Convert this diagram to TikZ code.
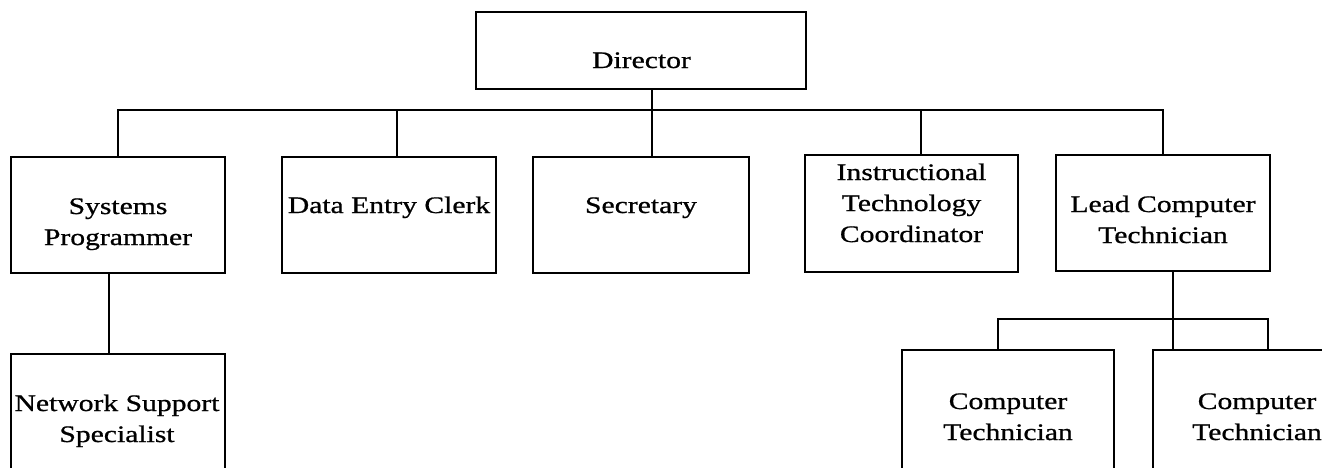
\documentclass[tikz,border=0pt]{standalone}
\usepackage{fontspec}
\setmainfont[FakeStretch=1.25,FakeBold=0.8]{Liberation Serif}
\begin{document}
\begin{tikzpicture}[x=1pt,y=-1pt,
  box/.style={draw,line width=2.2pt,rectangle,inner sep=0pt},
  lbl/.style={align=center,anchor=base,inner sep=0pt,font=\fontsize{23.7}{31}\selectfont},
  con/.style={line width=2.2pt}]
\useasboundingbox (0,0) rectangle (1322,467);
\clip (0,0) rectangle (1322,467);
% boxes
\node[box,minimum width=330pt,minimum height=77pt] (dir) at (641,50.5) {};
\node[box,minimum width=214pt,minimum height=116pt] (sp) at (118,215) {};
\node[box,minimum width=214pt,minimum height=116pt] (de) at (389,215) {};
\node[box,minimum width=216pt,minimum height=116pt] (sec) at (641,215) {};
\node[box,minimum width=213pt,minimum height=117pt] (itc) at (911.5,213.5) {};
\node[box,minimum width=214pt,minimum height=116pt] (lct) at (1163,213) {};
\node[box,minimum width=214pt,minimum height=130pt] (nss) at (118,419) {};
\node[box,minimum width=212pt,minimum height=130pt] (ct1) at (1008,415) {};
\node[box,minimum width=208pt,minimum height=130pt] (ct2) at (1257,415) {};
% labels (anchor = baseline of last line)
\node[lbl] (tdir) at (641.5,68) {Director};
\node[lbl] (tsp) at (118,245) {Systems\\Programmer};
\node[lbl] (tde) at (389,213) {Data Entry Clerk};
\node[lbl] (tsec) at (641,213) {Secretary};
\node[lbl] (titc) at (911.5,242) {Instructional\\Technology\\Coordinator};
\node[lbl] (tlct) at (1163,243) {Lead Computer\\Technician};
\node[lbl] (tnss) at (117,442) {Network Support\\Specialist};
\node[lbl] (tct1) at (1008,440) {Computer\\Technician};
\node[lbl] (tct2) at (1257,440) {Computer\\Technician};
% connectors
\coordinate (bar) at (652,110);
\draw[con] (dir.south -| bar) -- (bar);
\draw[con] (sp.north) |- (lct.north |- bar) -- (lct.north);
\draw[con] (de.north -| 397,0) -- (397,110);
\draw[con] (sec.north -| bar) -- (bar);
\draw[con] (itc.north -| 921,0) -- (921,110);
\draw[con] (sp.south -| 109,0) -- (nss.north -| 109,0);
\coordinate (sub) at (1173,319);
\draw[con] (lct.south -| sub) -- (ct2.north -| sub);
\draw[con] (ct1.north -| 998,0) |- (1268,319) -- (ct2.north -| 1268,0);
\end{tikzpicture}
\end{document}
